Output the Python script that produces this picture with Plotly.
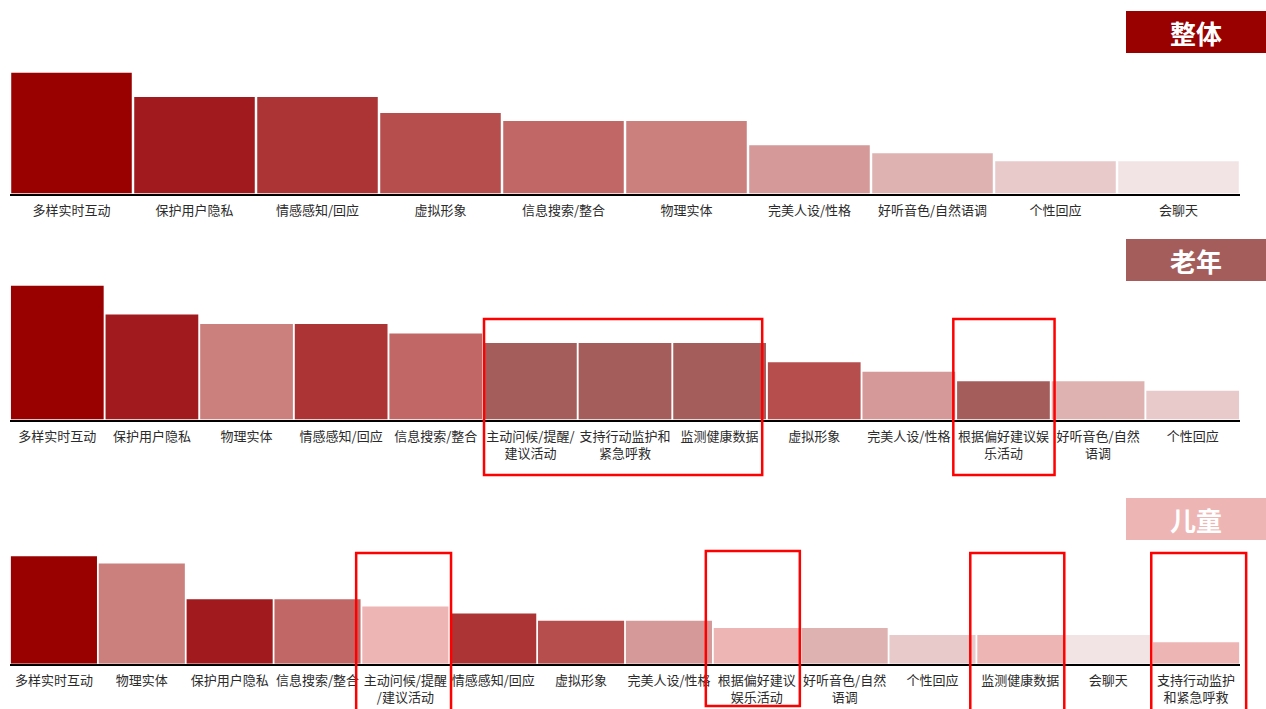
import plotly.graph_objects as go

# ---- data ----
overall_cats = ['多样实时互动', '保护用户隐私', '情感感知/回应', '虚拟形象', '信息搜索/整合',
                '物理实体', '完美人设/性格', '好听音色/自然语调', '个性回应', '会聊天']
overall_vals = [15, 12, 12, 10, 9, 9, 6, 5, 4, 4]

elder_cats = ['多样实时互动', '保护用户隐私', '物理实体', '情感感知/回应', '信息搜索/整合',
              '主动问候/提醒/建议活动', '支持行动监护和紧急呼救', '监测健康数据', '虚拟形象',
              '完美人设/性格', '根据偏好建议娱乐活动', '好听音色/自然语调', '个性回应']
elder_vals = [14, 11, 10, 10, 9, 8, 8, 8, 6, 5, 4, 4, 3]

child_cats = ['多样实时互动', '物理实体', '保护用户隐私', '信息搜索/整合', '主动问候/提醒/建议活动',
              '情感感知/回应', '虚拟形象', '完美人设/性格', '根据偏好建议娱乐活动', '好听音色/自然语调',
              '个性回应', '监测健康数据', '会聊天', '支持行动监护和紧急呼救']
child_vals = [15, 14, 9, 9, 8, 7, 6, 6, 5, 5, 4, 4, 4, 3]

# tick text with line breaks, per panel
overall_ticks = list(overall_cats)
elder_ticks = ['多样实时互动', '保护用户隐私', '物理实体', '情感感知/回应', '信息搜索/整合',
               '主动问候/提醒/<br>建议活动', '支持行动监护和<br>紧急呼救', '监测健康数据', '虚拟形象',
               '完美人设/性格', '根据偏好建议娱<br>乐活动', '好听音色/自然<br>语调', '个性回应']
child_ticks = ['多样实时互动', '物理实体', '保护用户隐私', '信息搜索/整合', '主动问候/提醒<br>/建议活动',
               '情感感知/回应', '虚拟形象', '完美人设/性格', '根据偏好建议<br>娱乐活动', '好听音色/自然<br>语调',
               '个性回应', '监测健康数据', '会聊天', '支持行动监护<br>和紧急呼救']

# highlighted categories per panel (framed in red)
elder_marked = [['主动问候/提醒/建议活动', '支持行动监护和紧急呼救', '监测健康数据'], ['根据偏好建议娱乐活动']]
child_marked = [['主动问候/提醒/建议活动'], ['根据偏好建议娱乐活动'], ['监测健康数据'], ['支持行动监护和紧急呼救']]

# ---- colours ----
base_colors = {
    '多样实时互动': '#990000',
    '保护用户隐私': '#A11A1D',
    '情感感知/回应': '#AD3435',
    '虚拟形象': '#B64E4E',
    '信息搜索/整合': '#C16766',
    '物理实体': '#CB807E',
    '完美人设/性格': '#D49998',
    '好听音色/自然语调': '#DEB2B1',
    '个性回应': '#E8CACB',
    '会聊天': '#F2E4E4',
}
ELDER_HL = '#A55D5C'
CHILD_HL = '#EDB5B4'
TITLE_COLORS = ['#990000', ELDER_HL, CHILD_HL]

W, H = 1266, 709
X_LEFT, X_RIGHT = 10, 1240


def py(px):
    """pixel row -> paper y"""
    return 1 - px / H


def px_x(px):
    return px / W


# panel geometry: (baseline px, top px, px per unit)
panels = [
    (193.5, 60, 8.05),
    (419.5, 280, 9.55),
    (663.8, 540, 7.17),
]

fig = go.Figure()

series = [
    (overall_cats, overall_vals, overall_ticks, None),
    (elder_cats, elder_vals, elder_ticks, ELDER_HL),
    (child_cats, child_vals, child_ticks, CHILD_HL),
]

for k, (cats, vals, ticks, hl) in enumerate(series):
    xa = 'x' if k == 0 else f'x{k + 1}'
    ya = 'y' if k == 0 else f'y{k + 1}'
    colors = [base_colors.get(c, hl) for c in cats]
    fig.add_trace(go.Bar(
        x=cats, y=vals, xaxis=xa, yaxis=ya,
        marker=dict(color=colors, line=dict(width=0)),
        showlegend=False, hoverinfo='x+y',
    ))
    base, top, unit = panels[k]
    rng = (base - top) / unit
    xkey = 'xaxis' if k == 0 else f'xaxis{k + 1}'
    ykey = 'yaxis' if k == 0 else f'yaxis{k + 1}'
    fig.layout[xkey] = dict(
        domain=[px_x(X_LEFT), px_x(X_RIGHT)], anchor=ya,
        type='category', categoryorder='array', categoryarray=cats,
        tickmode='array', tickvals=cats, ticktext=ticks,
        showline=True, linecolor='#000000', linewidth=2,
        ticks='', showgrid=False, zeroline=False,
        tickfont=dict(family='Noto Sans CJK SC', size=13, color='#2b2b2b'),
        tickangle=0, ticklabelstandoff=4,
        range=[-0.5, len(cats) - 0.5],
    )
    fig.layout[ykey] = dict(
        domain=[py(base), py(top)], anchor=xa,
        range=[0, rng], visible=False, fixedrange=True,
    )

# category title boxes at the right
titles = ['整体', '老年', '儿童']
title_tops = [11, 239, 498]
for t, top, col in zip(titles, title_tops, TITLE_COLORS):
    fig.add_shape(type='rect', xref='paper', yref='paper',
                  x0=px_x(1126), x1=1, y0=py(top + 42), y1=py(top),
                  fillcolor=col, line=dict(width=0), layer='below')
    fig.add_annotation(xref='paper', yref='paper', x=px_x(1196), y=py(top + 21),
                       text=t, showarrow=False, xanchor='center', yanchor='middle',
                       font=dict(family='Noto Sans CJK SC', size=26, color='white', weight='bold'))


# red frames around highlighted groups (paper coords, so they may run past the axis ends)
def frame(cats, group, y_top, y_bot, pad_l=0.55, pad_r=0.5):
    n = len(cats)
    i0 = cats.index(group[0])
    i1 = cats.index(group[-1])
    d0, d1 = px_x(X_LEFT), px_x(X_RIGHT)

    def to_paper(pos):
        return d0 + (pos + 0.5) / n * (d1 - d0)

    fig.add_shape(type='rect', xref='paper', yref='paper',
                  x0=to_paper(i0 - pad_l), x1=to_paper(i1 + pad_r),
                  y0=py(y_bot), y1=py(y_top),
                  line=dict(color='#FF0000', width=2.5), fillcolor='rgba(0,0,0,0)')


frame(elder_cats, elder_marked[0], 319, 475, 0.49, 0.45)
frame(elder_cats, elder_marked[1], 319, 475, 0.53, 0.54)

frame(child_cats, child_marked[0], 553, 712, 0.56, 0.52)
frame(child_cats, child_marked[1], 551, 706, 0.58, 0.49)
frame(child_cats, child_marked[2], 553, 712, 0.57, 0.50)
frame(child_cats, child_marked[3], 553, 712, 0.51, 0.57)

fig.update_layout(
    width=W, height=H,
    margin=dict(l=0, r=0, t=0, b=0),
    paper_bgcolor='white', plot_bgcolor='white',
    bargap=0.02,
    font=dict(family='Noto Sans CJK SC'),
)

fig.write_html('out.html')
